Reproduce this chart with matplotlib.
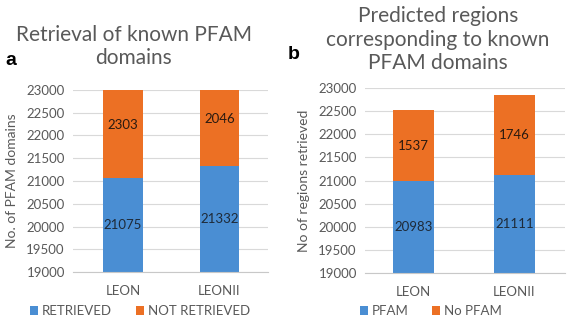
import numpy as np
from matplotlib import pyplot as plt

# panel a
groups = ['LEON', 'LEONII']
retrieved = [21075, 21332]
not_retrieved = [2303, 2046]
# panel b
pfam = [20983, 21111]
no_pfam = [1537, 1746]

yticks = [19000, 19500, 20000, 20500, 21000, 21500, 22000, 22500, 23000]

BLUE = '#4a8ed3'
ORANGE = '#ec7024'
GREY = '#595959'

plt.rcParams['font.family'] = ['Lato', 'DejaVu Sans']

fig = plt.figure(figsize=(5.67, 3.19), dpi=100)
ax_a = fig.add_axes([0.129, 0.147, 0.344, 0.571])
ax_b = fig.add_axes([0.644, 0.144, 0.353, 0.580])


def stacked(ax, low, high, labels, ylabel, xlim, legend_x):
    x = np.arange(len(groups))
    ax.bar(x, low, width=0.41, color=BLUE, label=labels[0], zorder=2)
    ax.bar(x, high, width=0.41, bottom=low, color=ORANGE, label=labels[1], zorder=2)
    ymin = yticks[0]
    for i in range(len(x)):
        # excel centres the label on the visible part of the bottom segment
        ax.text(x[i], (ymin + low[i]) / 2, str(low[i]), ha='center', va='center',
                fontsize=9.5, color='#1e2a38', zorder=3)
        ax.text(x[i], low[i] + high[i] / 2, str(high[i]), ha='center', va='center',
                fontsize=9.5, color='#2a1a10', zorder=3)
    ax.set_ylim(yticks[0], yticks[-1])
    ax.set_xlim(*xlim)
    ax.set_yticks(yticks)
    ax.set_xticks(x)
    ax.set_xticklabels(groups)
    ax.tick_params(length=0, labelsize=9.5, colors=GREY, pad=6)
    ax.tick_params(axis='x', pad=9)
    ax.grid(axis='y', color='#d9d9d9', linewidth=0.8, zorder=0)
    for s in ['top', 'right', 'left']:
        ax.spines[s].set_visible(False)
    ax.spines['bottom'].set_color('#c8c8c8')
    ax.set_ylabel(ylabel, fontsize=10, color=GREY, labelpad=6)
    fig.legend(handles=ax.containers, labels=labels, loc='center',
               bbox_to_anchor=(legend_x, 0.025), ncol=2, frameon=False,
               fontsize=9.5, labelcolor=GREY, handlelength=0.6, handleheight=0.6,
               handletextpad=0.3, columnspacing=1.8, borderpad=0)


stacked(ax_a, retrieved, not_retrieved, ['RETRIEVED', 'NOT RETRIEVED'],
        'No. of PFAM domains', (-0.518, 1.506), 0.247)
stacked(ax_b, pfam, no_pfam, ['PFAM', 'No PFAM'],
        'No of regions retrieved', (-0.483, 1.507), 0.76)

fig.text(0.236, 0.855, 'Retrieval of known PFAM\ndomains', ha='center', va='center',
         fontsize=15, color=GREY, linespacing=1.2)
fig.text(0.772, 0.875, 'Predicted regions\ncorresponding to known\nPFAM domains', ha='center',
         va='center', fontsize=15, color=GREY, linespacing=1.22)
fig.text(0.009, 0.81, 'a', fontsize=14, fontweight='bold', family='Liberation Sans', va='center')
fig.text(0.508, 0.83, 'b', fontsize=14, fontweight='bold', family='Liberation Sans', va='center')

fig.savefig('out.png', dpi=100)
